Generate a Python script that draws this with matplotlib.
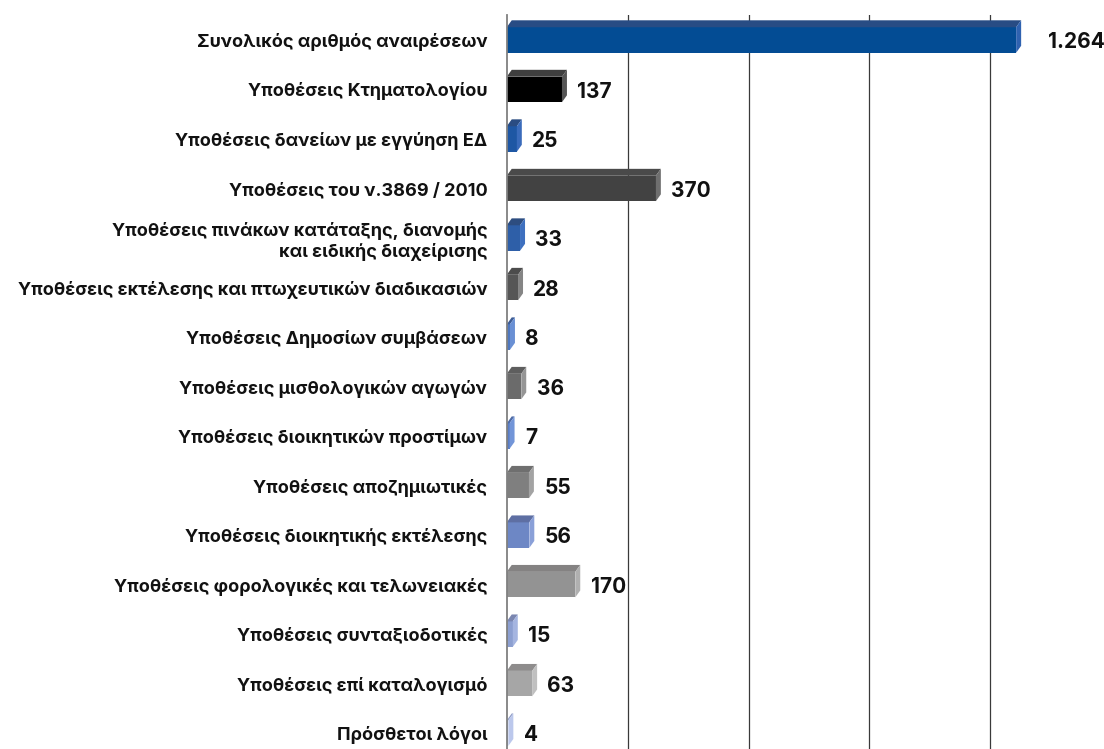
import matplotlib.pyplot as plt
from matplotlib.patches import Polygon

labels = [
    'Συνολικός αριθμός αναιρέσεων',
    'Υποθέσεις Κτηματολογίου',
    'Υποθέσεις δανείων με εγγύηση ΕΔ',
    'Υποθέσεις του ν.3869 / 2010',
    'Υποθέσεις πινάκων κατάταξης, διανομής\nκαι ειδικής διαχείρισης',
    'Υποθέσεις εκτέλεσης και πτωχευτικών διαδικασιών',
    'Υποθέσεις Δημοσίων συμβάσεων',
    'Υποθέσεις μισθολογικών αγωγών',
    'Υποθέσεις διοικητικών προστίμων',
    'Υποθέσεις αποζημιωτικές',
    'Υποθέσεις διοικητικής εκτέλεσης',
    'Υποθέσεις φορολογικές και τελωνειακές',
    'Υποθέσεις συνταξιοδοτικές',
    'Υποθέσεις επί καταλογισμό',
    'Πρόσθετοι λόγοι',
]
values = [1264, 137, 25, 370, 33, 28, 8, 36, 7, 55, 56, 170, 15, 63, 4]

front_colors = ['#034c94', '#000000', '#1e57a4', '#424242', '#2e5fa8', '#565656',
                '#4f78bf', '#6b6b6b', '#5a7dc3', '#7f7f7f', '#6d87c5', '#939393',
                '#8c9fd0', '#a6a6a6', '#a7b5df']
top_colors = ['#284c84', '#3f3f3f', '#2a4c82', '#4a4a4a', '#2d4d80', '#4c4c4c',
              '#3e5d95', '#5e5e5e', '#4d6aa5', '#6f6f6f', '#5e6fa3', '#848282',
              '#7a86b0', '#8e8c8c', '#8f9cc6']
side_colors = ['#2f62b0', '#555555', '#3a6bbb', '#6f6f6f', '#3e70bf', '#858585',
               '#6a90d4', '#959595', '#7295d8', '#a3a3a3', '#8aa0d8', '#b0b0b0',
               '#a5b5e0', '#c0c0c0', '#bcc8ec']

plt.rcParams['font.family'] = ['Inter', 'DejaVu Sans']

fig = plt.figure(figsize=(11.04, 7.49), dpi=100)
ax = fig.add_axes([0.459, 0.0, 0.541, 0.98])

h = 0.515   # front face height
dx = 12.4   # depth in x (data units)
dy = 0.14   # depth in y (data units)

ax.set_xlim(0, 1482)
ax.set_ylim(14.32, -0.505)

for gx in [300, 600, 900, 1200]:
    ax.axvline(gx, color='#3a3a3a', lw=0.9, zorder=0)

for i, v in enumerate(values):
    top = i - h / 2
    bot = i + h / 2
    ax.barh(i, v, height=h, color=front_colors[i], zorder=3)
    ax.add_patch(Polygon([(0, top), (v, top), (v + dx, top - dy), (dx, top - dy)],
                         closed=True, color=top_colors[i], lw=0, zorder=3))
    ax.add_patch(Polygon([(v, top), (v + dx, top - dy), (v + dx, bot - dy), (v, bot)],
                         closed=True, color=side_colors[i], lw=0, zorder=3))
    txt = f'{v:,}'.replace(',', '.')
    off = 23 if i == 0 else 11
    ax.annotate(txt, (v, i), xytext=(off, -1.5), textcoords='offset points',
                ha='left', va='center', fontsize=15, fontweight='bold', color='#111111')

ax.set_yticks(range(len(labels)))
ax.set_yticklabels(labels, fontsize=13, fontweight='bold', color='#111111',
                   linespacing=1.2)
ax.tick_params(axis='y', length=0, pad=14)
ax.set_xticks([])

for s in ['top', 'right', 'bottom']:
    ax.spines[s].set_visible(False)
ax.spines['left'].set_color('#808080')
ax.spines['left'].set_linewidth(1.3)
ax.spines['left'].set_zorder(4)

fig.savefig('out.png', dpi=100)
